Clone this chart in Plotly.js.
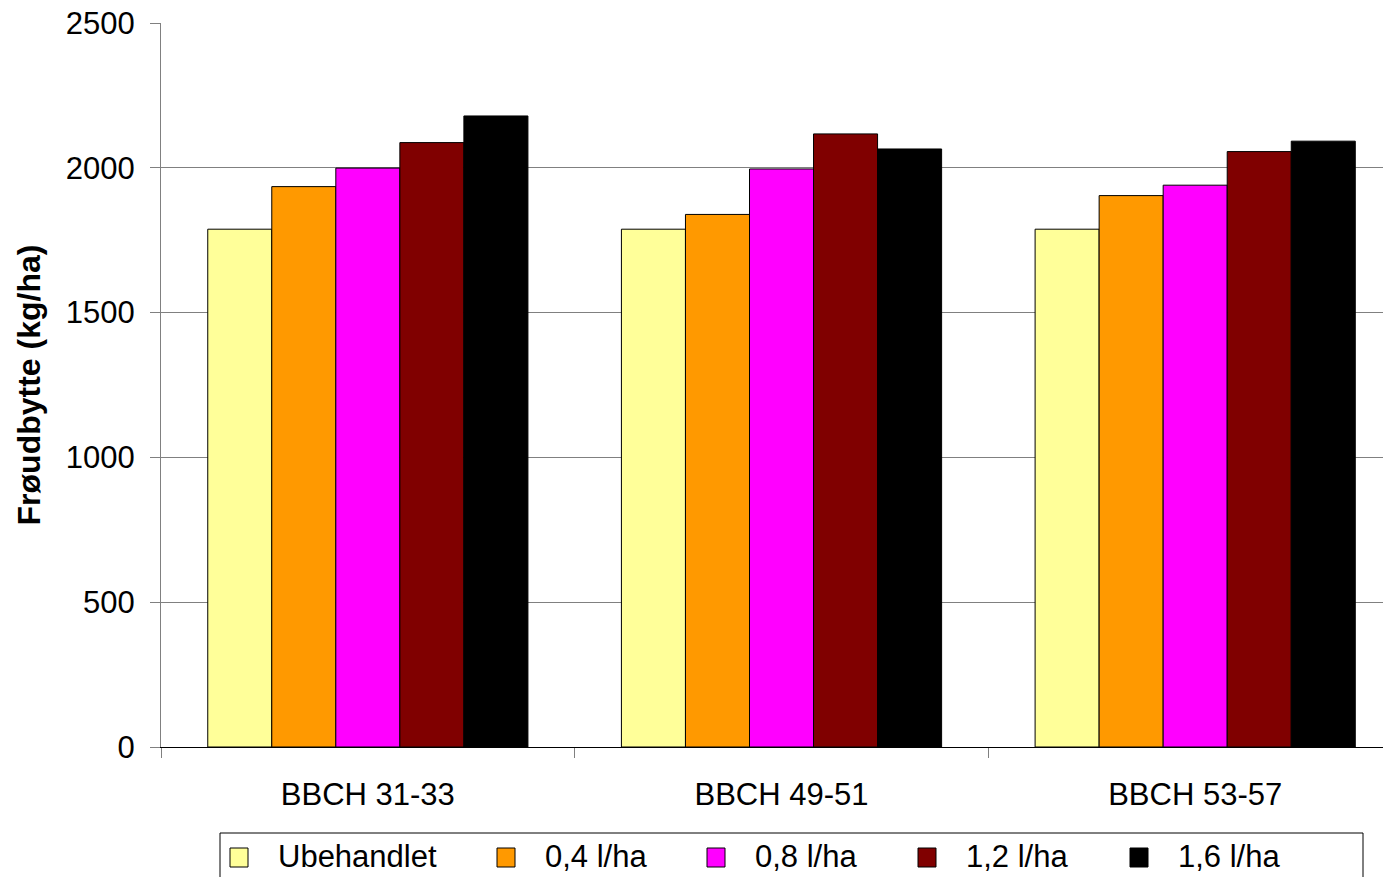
<!DOCTYPE html>
<html>
<head>
<meta charset="utf-8">
<script src="https://cdn.plot.ly/plotly-3.0.1.min.js"></script>
<style>
  html, body { margin: 0; padding: 0; background: #ffffff; }
  #chart { width: 1383px; height: 877px; }
</style>
</head>
<body>
<div id="chart"></div>
<script>
// Seed yield per growth-stage of application and dose
const stages = ['BBCH 31-33', 'BBCH 49-51', 'BBCH 53-57'];
const seriesNames = ['Ubehandlet', '0,4 l/ha', '0,8 l/ha', '1,2 l/ha', '1,6 l/ha'];
const ubehandlet = [1788, 1788, 1788];
const dose04 = [1935, 1839, 1904];
const dose08 = [1999, 1996, 1940];
const dose12 = [2087, 2117, 2056];
const dose16 = [2179, 2065, 2092];
const yTickValues = [0, 500, 1000, 1500, 2000, 2500];

const seriesValues = [ubehandlet, dose04, dose08, dose12, dose16];
const seriesColors = ['#FFFF99', '#FF9900', '#FF00FF', '#800000', '#000000'];

const FONT = 'Liberation Sans, Arial, Helvetica, sans-serif';
const FS = 31;
const W = 1383, H = 877;
const M = { l: 161, r: 0, t: 23, b: 130 };
const plotW = W - M.l - M.r, plotH = H - M.t - M.b;

// pixel position -> paper coordinates (for the legend box drawn below the plot)
const px = x => (x - M.l) / plotW;
const py = y => (H - M.b - y) / plotH;

const traces = seriesNames.map((name, i) => ({
  type: 'bar',
  name: name,
  x: stages,
  y: seriesValues[i],
  marker: { color: seriesColors[i], line: { color: '#000000', width: 1 } },
  hoverinfo: 'x+y+name'
}));

// Legend, laid out as a single boxed row under the category labels
const legendSwatchX = [230, 497, 707, 918, 1130];
const shapes = [{
  type: 'rect', xref: 'paper', yref: 'paper',
  x0: px(220), x1: px(1363), y0: py(833), y1: py(900),
  line: { color: '#000000', width: 1 }, fillcolor: 'rgba(0,0,0,0)'
}];
const annotations = [];
seriesNames.forEach((name, i) => {
  const sx = legendSwatchX[i];
  shapes.push({
    type: 'rect', xref: 'paper', yref: 'paper',
    x0: px(sx), x1: px(sx + 18), y0: py(848), y1: py(867),
    line: { color: '#000000', width: 1 }, fillcolor: seriesColors[i]
  });
  annotations.push({
    xref: 'paper', yref: 'paper', x: px(sx + 46), y: py(857),
    xanchor: 'left', yanchor: 'middle', showarrow: false,
    text: name, font: { family: FONT, size: FS, color: '#000000' }
  });
});

const layout = {
  width: W, height: H,
  margin: M,
  paper_bgcolor: '#ffffff',
  plot_bgcolor: '#ffffff',
  showlegend: false,
  barmode: 'group',
  bargap: 0.226,
  bargroupgap: 0,
  font: { family: FONT, size: FS, color: '#000000' },
  xaxis: {
    type: 'category',
    range: [-0.5, 2.454],
    tickson: 'boundaries',
    ticks: 'outside', ticklen: 10, tickwidth: 1, tickcolor: '#808080',
    showline: true, linecolor: '#000000', linewidth: 1,
    showgrid: false, zeroline: false,
    ticklabelstandoff: 20,
    tickfont: { family: FONT, size: FS, color: '#000000' },
    fixedrange: true
  },
  yaxis: {
    range: [0, 2500],
    tickvals: yTickValues,
    ticktext: yTickValues.map(String),
    ticks: 'outside', ticklen: 10, tickwidth: 1, tickcolor: '#808080',
    showline: true, linecolor: '#808080', linewidth: 1,
    showgrid: true, gridcolor: '#808080', gridwidth: 1,
    zeroline: false,
    ticklabelstandoff: 9,
    tickfont: { family: FONT, size: FS, color: '#000000' },
    title: {
      text: 'Frøudbytte (kg/ha)',
      font: { family: FONT, size: 32, color: '#000000', weight: 'bold' },
      standoff: 15
    },
    automargin: false,
    fixedrange: true
  },
  shapes: shapes,
  annotations: annotations
};

Plotly.newPlot('chart', traces, layout, { displayModeBar: false, staticPlot: true });
</script>
</body>
</html>
